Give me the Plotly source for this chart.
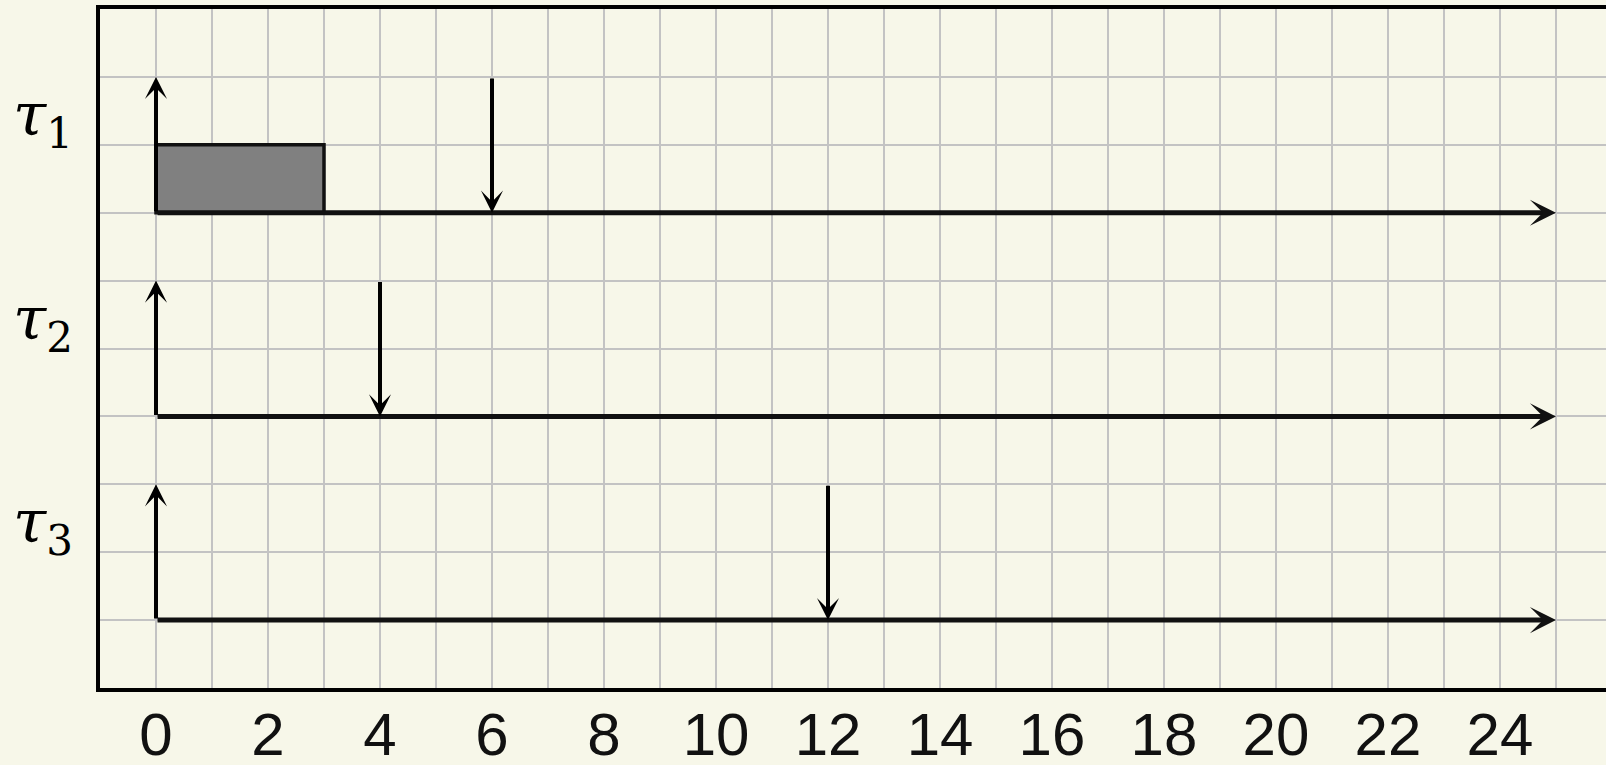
import plotly.graph_objects as go

# ---- data ----
tasks = ["τ1", "τ2", "τ3"]
task_labels = ["<i>τ</i><sub>1</sub>", "<i>τ</i><sub>2</sub>", "<i>τ</i><sub>3</sub>"]
baselines = [7, 4, 1]          # timeline level of each task
release_times = [0, 0, 0]
deadlines = [6, 4, 12]
arrow_height = 2
timeline_end = 25
exec_task = [0]                # index of task executing
exec_start = [0]
exec_end = [3]
exec_height = 1
x_ticks = list(range(0, 25, 2))

BG = "#f7f7e9"
GRID = "#c3c3c3"
INK = "#111111"

fig = go.Figure()
fig.add_trace(go.Scatter(x=[0, timeline_end], y=[0, 10], mode="markers",
                         marker=dict(opacity=0), showlegend=False, hoverinfo="skip"))

for ti, s, e in zip(exec_task, exec_start, exec_end):
    b = baselines[ti]
    fig.add_shape(type="rect", xref="x", yref="y", x0=s, x1=e, y0=b, y1=b + exec_height,
                  fillcolor="#808080", line=dict(color=INK, width=3.5), layer="above")

annotations = []
for i, b in enumerate(baselines):
    annotations.append(dict(x=timeline_end, y=b, ax=release_times[i], ay=b,
                            xref="x", yref="y", axref="x", ayref="y", text="",
                            showarrow=True, arrowhead=3, arrowsize=0.87, arrowwidth=5,
                            arrowcolor=INK, standoff=0, startstandoff=0))
    annotations.append(dict(x=release_times[i], y=b + arrow_height, ax=release_times[i], ay=b,
                            xref="x", yref="y", axref="x", ayref="y", text="",
                            showarrow=True, arrowhead=3, arrowsize=0.92, arrowwidth=4,
                            arrowcolor="#000000", standoff=0, startstandoff=0))
    annotations.append(dict(x=deadlines[i], y=b, ax=deadlines[i], ay=b + arrow_height,
                            xref="x", yref="y", axref="x", ayref="y", text="",
                            showarrow=True, arrowhead=3, arrowsize=0.92, arrowwidth=4,
                            arrowcolor="#000000", standoff=0, startstandoff=0))
    annotations.append(dict(x=-0.038, y=b + 1.39, xref="paper", yref="y",
                            text=task_labels[i], showarrow=False, xanchor="center",
                            yanchor="middle",
                            font=dict(family="DejaVu Serif", size=60, color="#000000")))

fig.update_layout(
    width=1606, height=765,
    margin=dict(l=100, r=0, t=9, b=77, autoexpand=False),
    paper_bgcolor=BG, plot_bgcolor=BG,
    showlegend=False,
    annotations=annotations,
    xaxis=dict(range=[-1, 25.893], tickvals=x_ticks, ticktext=[str(v) for v in x_ticks],
               showgrid=True, gridcolor=GRID, gridwidth=2, zeroline=False,
               minor=dict(dtick=1, tick0=0, showgrid=True, gridcolor=GRID, gridwidth=2),
               showline=True, linecolor="#000000", linewidth=3.5, mirror=True,
               ticks="", ticklabelstandoff=-9, automargin=False,
               tickfont=dict(family="Liberation Sans", size=60, color=INK)),
    yaxis=dict(range=[0, 10], dtick=1, tick0=0, showgrid=True, gridcolor=GRID, gridwidth=2,
               zeroline=False, showticklabels=False, ticks="", automargin=False,
               showline=True, linecolor="#000000", linewidth=3.5, mirror=False),
)

fig.write_html("out.html", config={"displayModeBar": False},
               post_script="document.body.style.margin='0';document.body.style.overflow='hidden';")
